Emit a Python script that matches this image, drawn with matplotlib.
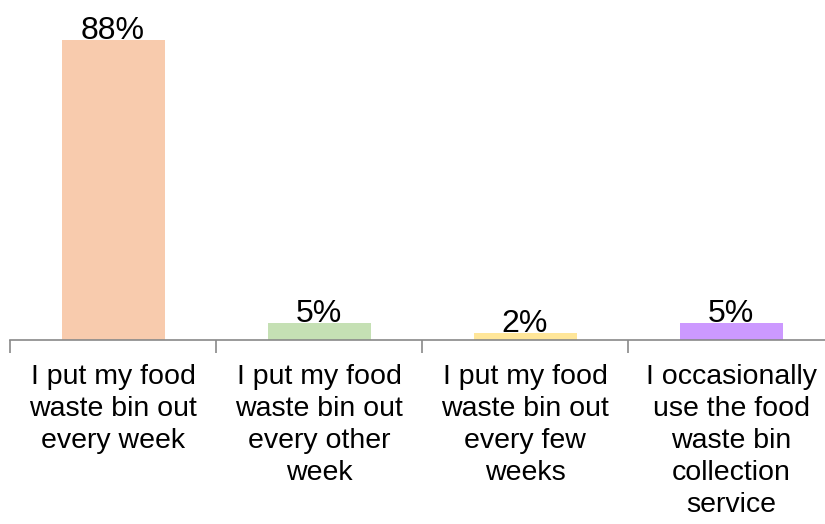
import matplotlib.pyplot as plt

categories = [
    "I put my food\nwaste bin out\nevery week",
    "I put my food\nwaste bin out\nevery other\nweek",
    "I put my food\nwaste bin out\nevery few\nweeks",
    "I occasionally\nuse the food\nwaste bin\ncollection\nservice",
]
values = [88, 5, 2, 5]
labels = ["88%", "5%", "2%", "5%"]
colors = ['#F8CBAD', '#C5E0B4', '#FFE699', '#CC99FF']

plt.rcParams['font.family'] = ['Liberation Sans', 'DejaVu Sans']

fig = plt.figure(figsize=(8.25, 5.24), dpi=100)
# axes deliberately runs past the right edge like the original
ax = fig.add_axes([10 / 825, 184 / 524, 824 / 825, 341 / 524])

x = list(range(len(values)))
ax.bar(x, values, width=0.5, color=colors)
for xi, v, lab in zip(x, values, labels):
    ax.text(xi, v + 0.3, lab, ha='center', va='baseline', fontsize=23)

ax.set_xlim(-0.5, 3.5)
ax.set_ylim(0, 100)
ax.set_yticks([])
for s in ['top', 'right', 'left']:
    ax.spines[s].set_visible(False)
ax.spines['bottom'].set_color('#898989')
ax.spines['bottom'].set_linewidth(1.2)

ax.set_xticks([-0.5, 0.5, 1.5, 2.5, 3.5])
ax.set_xticklabels([])
ax.tick_params(axis='x', length=9, color='#898989', width=1.2)
ax.set_xticks(x, minor=True)
ax.set_xticklabels(categories, minor=True, fontsize=20.5, linespacing=1.3)
ax.tick_params(axis='x', which='minor', length=0, pad=17)

fig.savefig('out.png', dpi=100)
